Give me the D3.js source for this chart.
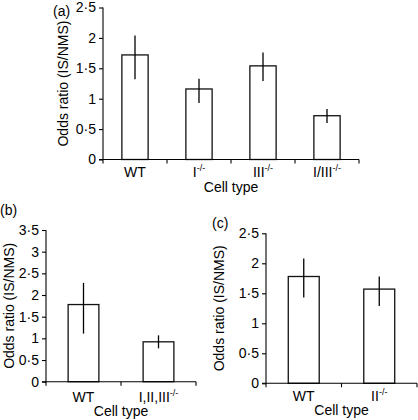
<!DOCTYPE html>
<html><head><meta charset="utf-8">
<script src="https://cdn.jsdelivr.net/npm/d3@7"></script>
<style>body{margin:0;background:#fff}svg{display:block}text{font-family:"Liberation Sans",Arial,sans-serif;fill:#000}</style>
</head><body><svg id="c" width="418" height="420"></svg>
<script>
// Panel (a)
const catsA = ["WT", "I", "III", "I/III"];
const supA = ["", "-/-", "-/-", "-/-"];
const valsA = [1.72, 1.16, 1.54, 0.72];
const errLoA = [1.32, 0.93, 1.29, 0.60];
const errHiA = [2.04, 1.33, 1.76, 0.83];
const ticksA = [0, 0.5, 1, 1.5, 2, 2.5];
// Panel (b)
const catsB = ["WT", "I,II,III"];
const supB = ["", "-/-"];
const valsB = [1.78, 0.92];
const errLoB = [1.11, 0.77];
const errHiB = [2.28, 1.07];
const ticksB = [0, 0.5, 1, 1.5, 2, 2.5, 3, 3.5];
// Panel (c)
const catsC = ["WT", "II"];
const supC = ["", "-/-"];
const valsC = [1.78, 1.57];
const errLoC = [1.43, 1.29];
const errHiC = [2.08, 1.78];
const ticksC = [0, 0.5, 1, 1.5, 2, 2.5];

const svg = d3.select("#c");
const fmt = v => d3.format("")(v).replace(".", "\u00b7");

function panel(o) {
  const g = svg.append("g");
  const x = d3.scaleBand().domain(o.cats).range([o.x0, o.x1]).paddingInner(0).paddingOuter(0);
  const y = d3.scaleLinear().domain([0, o.max]).range([o.y0, o.y1]);
  const bw = x.bandwidth() * 0.41;
  // bars
  g.selectAll("rect.bar").data(o.cats).enter().append("rect")
    .attr("x", d => x(d) + (x.bandwidth() - bw) / 2)
    .attr("y", (d, i) => y(o.vals[i]))
    .attr("width", bw)
    .attr("height", (d, i) => o.y0 - y(o.vals[i]))
    .attr("fill", "#fff").attr("stroke", "#111").attr("stroke-width", 1.3);
  // error bars
  g.selectAll("line.err").data(o.cats).enter().append("line")
    .attr("x1", d => x(d) + x.bandwidth() / 2).attr("x2", d => x(d) + x.bandwidth() / 2)
    .attr("y1", (d, i) => y(o.lo[i])).attr("y2", (d, i) => y(o.hi[i]))
    .attr("stroke", "#000").attr("stroke-width", 1.3);
  // y axis
  const ya = g.append("g").attr("transform", `translate(${o.x0},0)`)
    .call(d3.axisLeft(y).tickValues(o.ticks).tickFormat(fmt).tickSize(4).tickPadding(3));
  ya.select(".domain").attr("d", `M0,${o.y0 + 0.5}V${o.y1}`).attr("stroke", "#000").attr("stroke-width", 1.1);
  ya.selectAll(".tick line").attr("stroke", "#000").attr("stroke-width", 1.1);
  ya.selectAll(".tick text").style("font-size", "14px").style("font-family", '"Liberation Sans",Arial,sans-serif').attr("fill", "#000");
  // x axis line
  g.append("line").attr("x1", o.x0 - 4).attr("x2", o.x1).attr("y1", o.y0).attr("y2", o.y0)
    .attr("stroke", "#000").attr("stroke-width", 1.1);
  // boundary ticks
  const bounds = o.cats.map(d => x(d)).concat([o.x1]);
  g.selectAll("line.bt").data(bounds).enter().append("line")
    .attr("x1", d => d).attr("x2", d => d).attr("y1", o.y0).attr("y2", o.y0 + 4)
    .attr("stroke", "#000").attr("stroke-width", 1.1);
  // category labels
  const lab = g.selectAll("text.cat").data(o.cats).enter().append("text")
    .attr("x", d => x(d) + x.bandwidth() / 2).attr("y", o.labY)
    .attr("text-anchor", "middle").style("font-size", "14px");
  lab.append("tspan").text(d => d);
  lab.append("tspan").attr("dy", -6).style("font-size", "9px").text((d, i) => o.sup[i]);
  // x title
  g.append("text").attr("x", (o.x0 + o.x1) / 2).attr("y", o.titleY)
    .attr("text-anchor", "middle").style("font-size", "14px").text("Cell type");
  // y title
  g.append("text").attr("transform", `translate(${o.ytX},${(o.y0 + o.y1) / 2}) rotate(-90)`)
    .attr("text-anchor", "middle").style("font-size", "14px").text("Odds ratio (IS/NMS)");
  // panel letter
  g.append("text").attr("x", o.pX).attr("y", o.pY).style("font-size", "14px").text(o.letter);
}

panel({cats: catsA, sup: supA, vals: valsA, lo: errLoA, hi: errHiA, ticks: ticksA, max: 2.5,
  x0: 103, x1: 359, y0: 159.5, y1: 7.5, labY: 176.5, titleY: 191.5, ytX: 67.5, pX: 53, pY: 16, letter: "(a)"});
panel({cats: catsB, sup: supB, vals: valsB, lo: errLoB, hi: errHiB, ticks: ticksB, max: 3.5,
  x0: 46, x1: 196, y0: 381.7, y1: 230, labY: 402, titleY: 415.5, ytX: 14, pX: 0, pY: 215, letter: "(b)"});
panel({cats: catsC, sup: supC, vals: valsC, lo: errLoC, hi: errHiC, ticks: ticksC, max: 2.5,
  x0: 266, x1: 417, y0: 383.3, y1: 233.3, labY: 401, titleY: 414.5, ytX: 224, pX: 212, pY: 228, letter: "(c)"});
</script></body></html>
